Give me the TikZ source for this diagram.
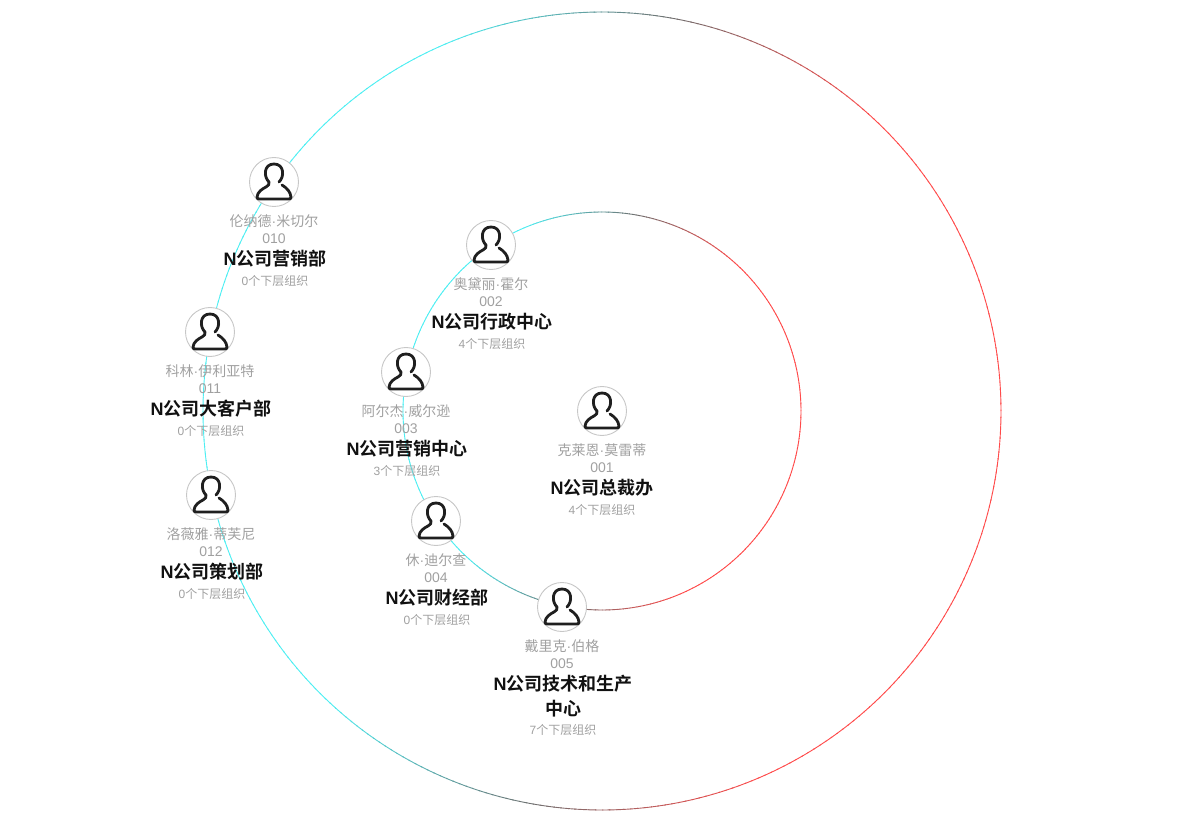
\documentclass[tikz,border=0pt]{standalone}
\usepackage{fontspec}
\setmainfont{Noto Sans CJK SC}
\newfontfamily\boldcjk{Noto Sans CJK SC Bold}
\newfontfamily\latinf{Liberation Sans}
\newfontfamily\latinb{Liberation Sans Bold}
\definecolor{ringcyan}{HTML}{4DEEF2}
\definecolor{ringred}{HTML}{FF4A4A}
\definecolor{ringgray}{HTML}{707070}
\definecolor{subtext}{HTML}{A0A0A0}
\definecolor{titletext}{HTML}{111111}
\newcommand{\ld}{{\latinf ·}}
\newcommand{\lN}{{\latinb N}}
\newcommand{\lt}[1]{{\latinf #1}}
\newcommand{\tdx}{1}
\tikzset{
  x=1pt,y=-1pt,
  avatar/.style={circle,draw=black!22,fill=white,line width=0.9pt,minimum size=49pt,inner sep=0pt},
  person/.style={draw=black!88,line width=2.8pt,line join=round,line cap=round},
  nametext/.style={font=\fontsize{14}{14}\selectfont,text=subtext,inner sep=0pt,anchor=center},
  titlelabel/.style={font=\boldcjk\fontsize{18}{25}\selectfont,text=titletext,inner sep=0pt,align=center,anchor=north},
  counttext/.style={font=\fontsize{12}{12}\selectfont,text=subtext,inner sep=0pt,anchor=center}
}
% #1 name, #2 x, #3 y, #4 person, #5 number, #6 title, #7 count, #8 y offset of the count
\newcommand{\orgnode}[8]{%
  \node[avatar] (#1) at (#2,#3) {};
  \draw[person,shift={(#1.center)}]
    (5,0) .. controls (10.5,-5) and (10.5,-18) .. (0,-18) .. controls (-10.5,-18) and (-10.5,-5) .. (-5,0)
    .. controls (-4,2) and (-6,4) .. (-8,5) .. controls (-12,7) and (-16.5,10) .. (-17,15)
    .. controls (-17,17) and (-16,17) .. (-14,17) -- (14,17)
    .. controls (16,17) and (17,17) .. (17,15) .. controls (16.5,10) and (13,6) .. (8,3);
  \node[nametext] (#1n) at (#2,#3+39.5) {#4};
  \node[nametext] (#1i) at (#2,#3+56.5) {\lt{#5}};
  \node[titlelabel] (#1t) at (#2+\tdx,#3+68) {#6};
  \node[counttext] (#1c) at (#2+\tdx,#3+#8) {#7};
}
\newcommand{\ringdraw}[1]{%
  \foreach \a in {0,1,...,359}{%
    \pgfmathsetmacro{\d}{cos(\a+0.5+10)}%
    \pgfmathsetmacro{\p}{min(100,abs(\d)*100/0.55)}%
    \ifdim\d pt<0pt \colorlet{segc}{ringcyan!\p!ringgray}\else \colorlet{segc}{ringred!\p!ringgray}\fi
    \draw[segc,line width=0.9pt] ($(ctr)+(\a:#1 and -#1)$) arc[start angle=-\a,end angle=-\a-1.2,radius=#1];
  }%
}
\usetikzlibrary{calc}
\begin{document}
\begin{tikzpicture}
\useasboundingbox (0,0) rectangle (1203,821);
\coordinate (ctr) at (602,411);
\ringdraw{399}
\ringdraw{199}
\renewcommand{\tdx}{0}
\orgnode{n1}{602}{411}{克莱恩\ld 莫雷蒂}{001}{\lN 公司总裁办}{\lt{4}个下层组织}{99}
\renewcommand{\tdx}{1}
\orgnode{n2}{491}{245}{奥黛丽\ld 霍尔}{002}{\lN 公司行政中心}{\lt{4}个下层组织}{99}
\orgnode{n3}{406}{372}{阿尔杰\ld 威尔逊}{003}{\lN 公司营销中心}{\lt{3}个下层组织}{99}
\orgnode{n4}{436}{521}{休\ld 迪尔查}{004}{\lN 公司财经部}{\lt{0}个下层组织}{99}
\orgnode{n5}{562}{607}{戴里克\ld 伯格}{005}{\lN 公司技术和生产\\中心}{\lt{7}个下层组织}{123}
\orgnode{n10}{274}{182}{伦纳德\ld 米切尔}{010}{\lN 公司营销部}{\lt{0}个下层组织}{99}
\orgnode{n11}{210}{332}{科林\ld 伊利亚特}{011}{\lN 公司大客户部}{\lt{0}个下层组织}{99}
\orgnode{n12}{211}{495}{洛薇雅\ld 蒂芙尼}{012}{\lN 公司策划部}{\lt{0}个下层组织}{99}
\end{tikzpicture}
\end{document}
